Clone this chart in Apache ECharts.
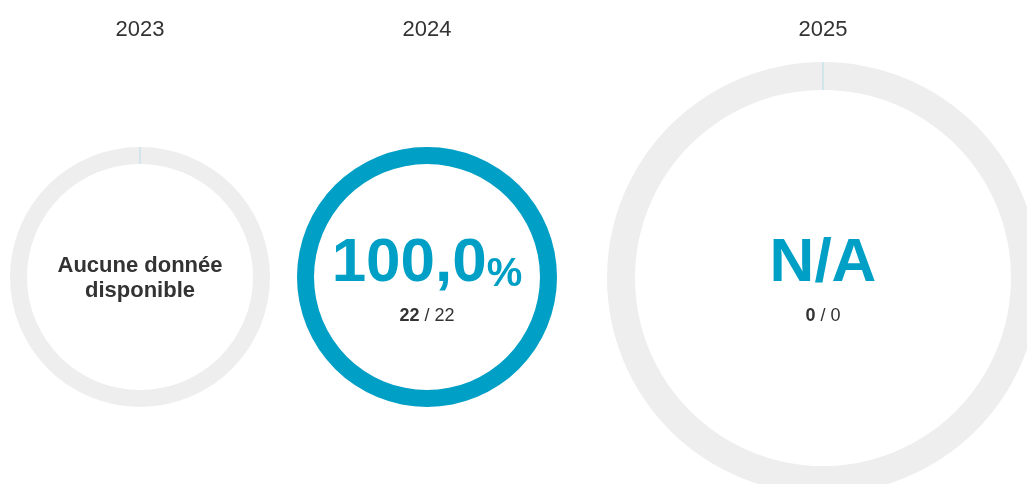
<!DOCTYPE html>
<html>
<head>
<meta charset="utf-8">
<script src="https://cdn.jsdelivr.net/npm/echarts@6/dist/echarts.min.js"></script>
<style>
  body { margin: 0; background: #fff; }
  #chart { width: 1027px; height: 484px; }
</style>
</head>
<body>
<div id="chart"></div>
<script>
// one ring per year, value = done / total
const years = ['2023', '2024', '2025'];
const done = [null, 22, 0];
const total = [null, 22, 0];

const BLUE = '#00a0c6';
const FONT = '"Liberation Sans", Arial, sans-serif';

// layout of each ring (px)
const centers = [[140, 277], [427, 277], [823, 278]];
const radii = [130, 130, 216];

function centerText (i) {
  if (total[i] == null) return '{msg|Aucune donnée}\n{msg|disponible}';
  let head;
  if (total[i] === 0) {
    head = '{big|N/A}';
  } else {
    head = '{big|' + (done[i] / total[i] * 100).toFixed(1).replace('.', ',') + '}{pct|%}';
  }
  return head + '\n{b|' + done[i] + '}{n| / ' + total[i] + '}';
}

const series = years.map((y, i) => {
  const w = Math.round(radii[i] * 0.13);
  const pct = total[i] ? done[i] / total[i] * 100 : 0;
  return {
    type: 'gauge',
    center: centers[i],
    radius: radii[i],
    startAngle: 90,
    endAngle: -270,
    min: 0,
    max: 100,
    splitNumber: 1,
    pointer: { show: false },
    anchor: { show: false },
    axisTick: { show: false },
    axisLabel: { show: false },
    axisLine: {
      roundCap: false,
      lineStyle: { width: w, color: [[1, '#eeeeee']] }
    },
    progress: {
      show: true,
      roundCap: false,
      width: w,
      itemStyle: { color: BLUE }
    },
    splitLine: {
      show: pct === 0,
      length: w,
      distance: -w,
      lineStyle: { color: '#c9e3ec', width: 1 }
    },
    title: {
      offsetCenter: [0, 30 - centers[i][1]],
      fontSize: 22,
      color: '#333',
      fontFamily: FONT
    },
    detail: {
      offsetCenter: [0, 8 + 277 - centers[i][1]],
      valueAnimation: false,
      fontFamily: FONT,
      fontWeight: 'normal',
      formatter: () => centerText(i),
      rich: {
        big: { fontSize: 62, fontWeight: 'bold', color: BLUE, lineHeight: 63, verticalAlign: 'bottom', fontFamily: FONT },
        pct: { fontSize: 40, fontWeight: 'bold', color: BLUE, lineHeight: 47, verticalAlign: 'bottom', fontFamily: FONT },
        b: { fontSize: 18, fontWeight: 'bold', color: '#333', lineHeight: 44, fontFamily: FONT },
        n: { fontSize: 18, fontWeight: 'normal', color: '#333', lineHeight: 44, fontFamily: FONT },
        msg: { fontSize: 22, fontWeight: 'bold', color: '#333', lineHeight: 25, fontFamily: FONT }
      }
    },
    data: [{ value: pct, name: y }]
  };
});

// the message block sits a little lower
series[0].detail.offsetCenter = [0, 1];

const chart = echarts.init(document.getElementById('chart'));
chart.setOption({
  animation: false,
  series: series
});
</script>
</body>
</html>
